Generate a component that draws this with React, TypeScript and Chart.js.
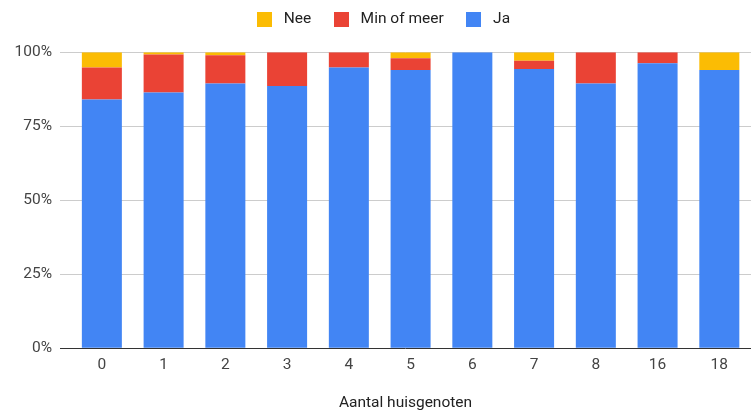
import React, { useEffect, useRef } from "react";
import { Chart, registerables } from "chart.js";

Chart.register(...registerables);

const categories = ["0", "1", "2", "3", "4", "5", "6", "7", "8", "16", "18"];
const jaValues = [84.1, 86.4, 89.5, 88.6, 94.9, 94.0, 100, 94.4, 89.5, 96.3, 94.0];
const minOfMeerValues = [10.8, 12.9, 9.5, 11.4, 5.1, 4.0, 0, 2.8, 10.5, 3.7, 0];
const neeValues = [5.1, 0.7, 1.0, 0, 0, 2.0, 0, 2.8, 0, 0, 6.0];
const yTickValues = [0, 25, 50, 75, 100];
const seriesNames = ["Ja", "Min of meer", "Nee"];
const seriesColors = ["#4285F4", "#EA4335", "#FBBC04"];
const xAxisTitle = "Aantal huisgenoten";

const FONT = "Roboto, Arial, sans-serif";

function makeSwatch(color: string): HTMLCanvasElement {
  const c = document.createElement("canvas");
  c.width = 15;
  c.height = 15;
  const g = c.getContext("2d")!;
  g.fillStyle = color;
  g.fillRect(0, 0, 15, 15);
  return c;
}

export default function App() {
  const canvasRef = useRef<HTMLCanvasElement | null>(null);

  useEffect(() => {
    document.body.style.margin = "0";
    const canvas = canvasRef.current;
    if (!canvas) return;
    const swatches = seriesColors.map(makeSwatch);
    const seriesValues = [jaValues, minOfMeerValues, neeValues];

    const legendSpacer = {
      id: "legendSpacer",
      beforeUpdate(chart: any) {
        const lg = chart.legend;
        if (lg && !lg._spacerPatched) {
          const origFit = lg.fit;
          lg.fit = function (this: any) {
            origFit.call(this);
            this.height += 15.3;
          };
          lg._spacerPatched = true;
        }
      },
    };

    const chart = new Chart(canvas, {
      type: "bar",
      data: {
        datasets: seriesNames.map((name, si) => ({
          label: name,
          data: seriesValues[si].map((v, i) => ({ x: i, y: v })),
          backgroundColor: seriesColors[si],
          borderWidth: 0,
          barPercentage: 0.648,
          categoryPercentage: 1,
        })),
      },
      options: {
        responsive: false,
        animation: false,
        devicePixelRatio: 1,
        layout: { padding: { top: -7.15, left: 12, right: 0, bottom: 0 } },
        plugins: {
          tooltip: { enabled: false },
          legend: {
            position: "top",
            reverse: true,
            labels: {
              usePointStyle: true,
              pointStyleWidth: 23,
              boxHeight: 15,
              padding: 18.7,
              color: "#222222",
              font: { family: FONT, size: 15.5 },
              generateLabels: (ch: any) => {
                const items = (Chart.defaults.plugins.legend.labels as any).generateLabels(ch);
                return items.map((it: any) => ({ ...it, pointStyle: swatches[it.datasetIndex] }));
              },
            },
          },
        },
        scales: {
          x: {
            type: "linear",
            stacked: true,
            offset: false,
            min: -0.678,
            max: 10.513,
            afterBuildTicks: (scale: any) => {
              scale.ticks = categories.map((_, i) => ({ value: i }));
            },
            afterFit: (scale: any) => {
              scale.height = 63.7;
            },
            grid: { display: false, drawTicks: false },
            border: { display: false },
            ticks: {
              autoSkip: false,
              maxRotation: 0,
              padding: 8,
              color: "#444444",
              font: { family: FONT, size: 15.5 },
              callback: (value: any) => categories[value as number] ?? "",
            },
            title: {
              display: true,
              text: xAxisTitle,
              color: "#222222",
              font: { family: FONT, size: 15.5 },
              padding: { top: 0, bottom: 0 },
            },
          },
          y: {
            type: "linear",
            stacked: true,
            min: 0,
            max: 100,
            afterBuildTicks: (scale: any) => {
              scale.ticks = yTickValues.map((v) => ({ value: v }));
            },
            afterFit: (scale: any) => {
              scale.width = 48;
            },
            grid: {
              drawTicks: false,
              color: (ctx: any) => (ctx.tick && ctx.tick.value === 0 ? "#333333" : "#cccccc"),
              lineWidth: 1,
            },
            border: { display: false },
            ticks: {
              padding: 8,
              color: "#444444",
              font: { family: FONT, size: 15.5 },
              callback: (value: any) => `${value}%`,
            },
          },
        },
      },
      plugins: [legendSpacer],
    } as any);

    return () => chart.destroy();
  }, []);

  return (
    <div style={{ width: 751, height: 412 }}>
      <canvas ref={canvasRef} width={751} height={412} style={{ display: "block" }} />
    </div>
  );
}
